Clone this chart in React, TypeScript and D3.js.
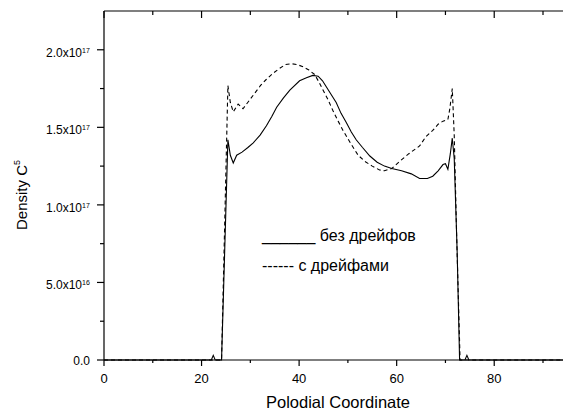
import React from "react";
import * as d3 from "d3";

const W = 563;
const H = 412;

// Data (x = poloidal coordinate, y = density in units of 1e17)
const solidX = [0, 22, 22.4, 22.8, 24.1, 25.4, 25.9, 26.5, 27.2, 28.3, 29.5, 30.6, 32, 33.3, 34.4, 35.4, 36.8, 38.1, 40.1, 41.5, 42.8, 43.9, 44.8, 45.6, 46.6, 47.6, 48.6, 49.7, 50.7, 51.7, 53, 54.5, 56, 57.5, 59, 61, 63, 64.7, 66.3, 67.4, 68.5, 69.5, 70.0, 70.5, 71.0, 71.4, 71.8, 72.4, 72.9, 74, 74.4, 74.8, 94.2];
const solidY = [0, 0, 0.03, 0, 0, 1.42, 1.32, 1.27, 1.32, 1.34, 1.37, 1.40, 1.45, 1.51, 1.57, 1.63, 1.69, 1.74, 1.80, 1.82, 1.835, 1.83, 1.80, 1.76, 1.71, 1.66, 1.59, 1.53, 1.47, 1.42, 1.37, 1.315, 1.275, 1.25, 1.235, 1.22, 1.20, 1.17, 1.17, 1.185, 1.22, 1.26, 1.265, 1.23, 1.33, 1.43, 1.30, 0.70, 0, 0, 0.03, 0, 0];

const dashedX = [0, 24.1, 25.4, 25.9, 26.5, 27.5, 28.5, 29.7, 30.9, 32.1, 33.3, 34.7, 36.0, 37.2, 38.4, 39.6, 40.8, 42, 43.2, 44.1, 44.9, 45.9, 46.9, 48, 49, 50.5, 52.1, 53.5, 55, 56.5, 57.5, 59, 60.6, 62.5, 64.7, 66, 67.4, 68.5, 69.5, 70.5, 70.9, 71.4, 71.8, 72.3, 73.0, 94.2];
const dashedY = [0, 0, 1.77, 1.66, 1.60, 1.65, 1.62, 1.67, 1.72, 1.77, 1.81, 1.85, 1.88, 1.905, 1.91, 1.905, 1.89, 1.87, 1.84, 1.79, 1.74, 1.68, 1.61, 1.54, 1.48, 1.40, 1.32, 1.28, 1.25, 1.225, 1.22, 1.235, 1.28, 1.33, 1.38, 1.44, 1.48, 1.52, 1.54, 1.55, 1.62, 1.75, 1.45, 0.8, 0, 0];

const xMajorTicks = [0, 20, 40, 60, 80];
const xMinorTicks = [10, 30, 50, 70, 90];
const yMajorTicks = [0, 0.5, 1.0, 1.5, 2.0];
const yMinorTicks = [0.25, 0.75, 1.25, 1.75];
const yTickLabels = ["0.0", "5.0x10", "1.0x10", "1.5x10", "2.0x10"];
const yTickExps = ["", "16", "17", "17", "17"];

const legendLabels = ["без дрейфов", "с дрейфами"];
const legendMarks = ["______", "------"];

const FONT = "'Liberation Sans', Arial, Helvetica, sans-serif";

export default function App() {
  const left = 104;
  const right = W;
  const top = 11;
  const bottom = 360;

  const x = d3.scaleLinear().domain([0, 94.1]).range([left, right]);
  const y = d3.scaleLinear().domain([0, 2.25]).range([bottom, top]);

  const line = d3
    .line<[number, number]>()
    .x((d) => x(d[0]))
    .y((d) => y(d[1]));

  const solid = solidX.map((v, i) => [v, solidY[i]] as [number, number]);
  const dashed = dashedX.map((v, i) => [v, dashedY[i]] as [number, number]);

  const sw = 1.2;

  return (
    <svg
      width={W}
      height={H}
      style={{ position: "absolute", left: 0, top: 0, background: "#fff" }}
      fontFamily={FONT}
    >
      <rect x={0} y={0} width={W} height={H} fill="#fff" />
      <defs>
        <clipPath id="plotclip">
          <rect x={left} y={top} width={right - left} height={bottom - top + 2} />
        </clipPath>
      </defs>

      {/* data lines */}
      <g clipPath="url(#plotclip)">
        <path d={line(solid) || ""} fill="none" stroke="#000" strokeWidth={1.1} />
        <path
          d={line(dashed) || ""}
          fill="none"
          stroke="#000"
          strokeWidth={1.1}
          strokeDasharray="4,3"
        />
      </g>

      {/* axes lines */}
      <line x1={left} x2={right} y1={bottom} y2={bottom} stroke="#000" strokeWidth={sw} />
      <line x1={left} x2={right} y1={top} y2={top} stroke="#000" strokeWidth={sw} />
      <line x1={left} x2={left} y1={top} y2={bottom} stroke="#000" strokeWidth={sw} />

      {/* bottom ticks */}
      {xMajorTicks.map((t) => (
        <g key={"xb" + t}>
          <line x1={x(t)} x2={x(t)} y1={bottom} y2={bottom + 6} stroke="#000" strokeWidth={sw} />
          <text x={x(t)} y={bottom + 23} fontSize={13} textAnchor="middle" fill="#000">
            {t}
          </text>
        </g>
      ))}
      {xMinorTicks.map((t) => (
        <line key={"xbm" + t} x1={x(t)} x2={x(t)} y1={bottom} y2={bottom + 3} stroke="#000" strokeWidth={sw} />
      ))}
      {/* top ticks (inward) */}
      {xMajorTicks.map((t) => (
        <line key={"xt" + t} x1={x(t)} x2={x(t)} y1={top} y2={top + 7} stroke="#000" strokeWidth={sw} />
      ))}
      {xMinorTicks.map((t) => (
        <line key={"xtm" + t} x1={x(t)} x2={x(t)} y1={top} y2={top + 4} stroke="#000" strokeWidth={sw} />
      ))}

      {/* left ticks */}
      {yMajorTicks.map((t, i) => (
        <g key={"yl" + t}>
          <line x1={left - 7} x2={left} y1={y(t)} y2={y(t)} stroke="#000" strokeWidth={sw} />
          {yTickExps[i] ? (
            <text x={left - 22} y={y(t) + 7} fontSize={12} textAnchor="end" fill="#000">
              {yTickLabels[i]}
            </text>
          ) : (
            <text x={left - 14} y={y(t) + 4.5} fontSize={12} textAnchor="end" fill="#000">
              {yTickLabels[i]}
            </text>
          )}
          {yTickExps[i] ? (
            <text x={left - 22} y={y(t) + 3} fontSize={7} textAnchor="start" fill="#000">
              {yTickExps[i]}
            </text>
          ) : null}
        </g>
      ))}
      {yMinorTicks.map((t) => (
        <line key={"ylm" + t} x1={left - 4} x2={left} y1={y(t)} y2={y(t)} stroke="#000" strokeWidth={sw} />
      ))}

      {/* axis titles */}
      <text x={338} y={408} fontSize={16.5} textAnchor="middle" fill="#000">
        Polodial Coordinate
      </text>
      <text
        transform={`translate(27, 195) rotate(-90)`}
        fontSize={15}
        textAnchor="middle"
        fill="#000"
      >
        Density C<tspan fontSize={9} dy={-7}>5</tspan>
      </text>

      {/* legend as text */}
      <text x={262} y={241} fontSize={16} fill="#000">
        {legendMarks[0]} {legendLabels[0]}
      </text>
      <text x={262} y={271} fontSize={16} fill="#000">
        {legendMarks[1]} {legendLabels[1]}
      </text>
    </svg>
  );
}
